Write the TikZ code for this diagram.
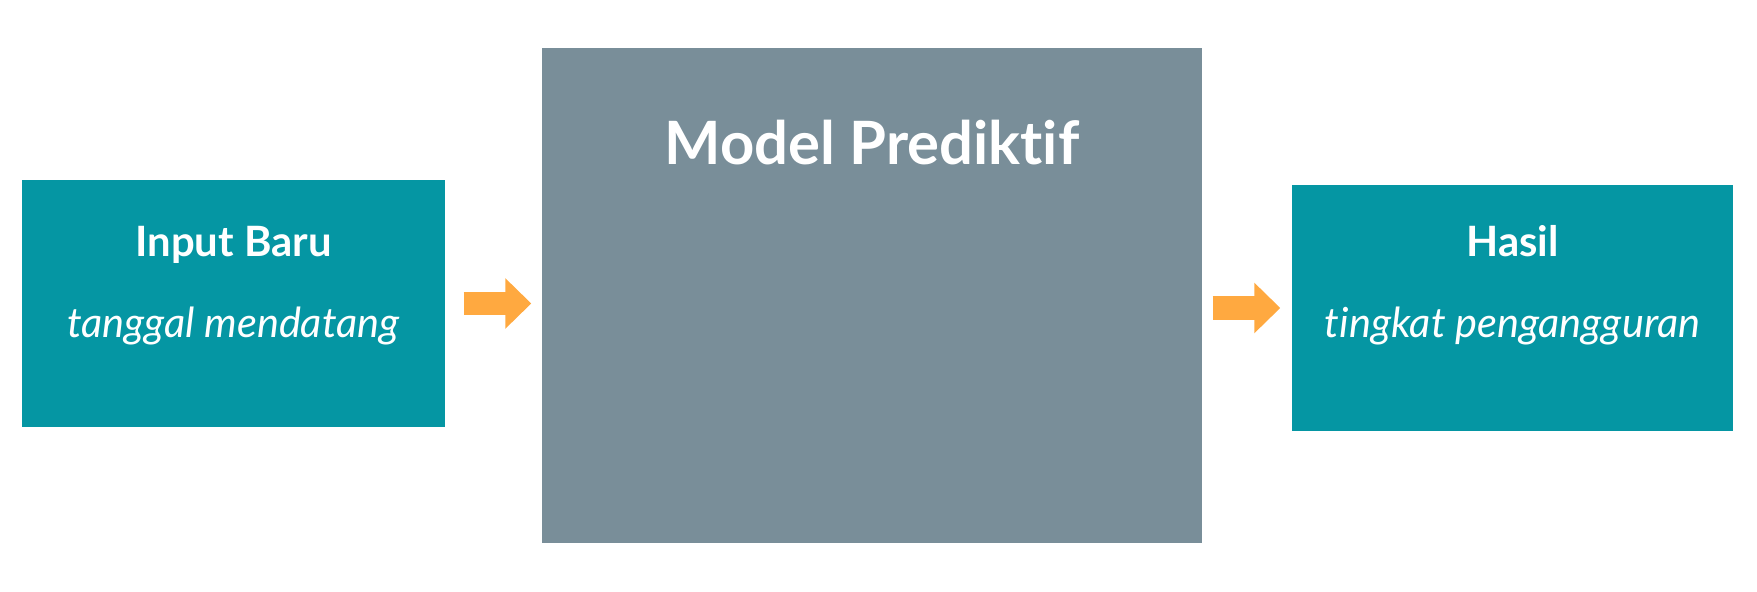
\documentclass[tikz,border=0pt]{standalone}
\usepackage{fontspec}
\setmainfont{Lato}[Ligatures = {NoCommon, NoRare, NoContextual}]
\usetikzlibrary{arrows.meta}

\definecolor{boxteal}{HTML}{0596A3}
\definecolor{modelgray}{HTML}{798E99}
\definecolor{arroworange}{HTML}{FFA940}

\tikzset{
    block/.style = {fill = #1, inner sep = 0pt},
    head/.style = {text = white, font = \fontsize{11.9}{14}\selectfont\bfseries, anchor = base},
    sub/.style = {text = white, font = \fontsize{11.8}{14}\selectfont\itshape, anchor = base},
    flow/.style = {arroworange, line width = 0.235cm,
        -{Triangle[length = 0.26cm, width = 0.49cm]}}
}

\begin{document}
\begin{tikzpicture}
    \useasboundingbox (0, 0) rectangle (17.57, 5.92);

    \node [block = boxteal, minimum width = 4.23cm, minimum height = 2.47cm] (input) at (2.335, 2.885) {};
    \node [block = modelgray, minimum width = 6.60cm, minimum height = 4.95cm] (model) at (8.72, 2.965) {};
    \node [block = boxteal, minimum width = 4.41cm, minimum height = 2.46cm] (result) at (15.125, 2.84) {};

    \node [head] (inputhead) at (2.335, 3.35) {Input Baru};
    \node [sub] (inputsub) at (2.335, 2.54) {tanggal mendatang};
    \node [head, font = \fontsize{17}{20}\selectfont\bfseries] (modelhead) at (8.72, 4.27) {Model Prediktif};
    \node [head] (resulthead) at (15.125, 3.35) {Hasil};
    \node [sub] (resultsub) at (15.125, 2.54) {tingkat pengangguran};

    \draw [flow, shorten <= 0.18cm, shorten >= 0.10cm] (input.east) -- (model.west |- input.east);
    \draw [flow, shorten <= 0.10cm, shorten >= 0.11cm] (model.east |- result.west) -- (result.west);

\end{tikzpicture}
\end{document}
